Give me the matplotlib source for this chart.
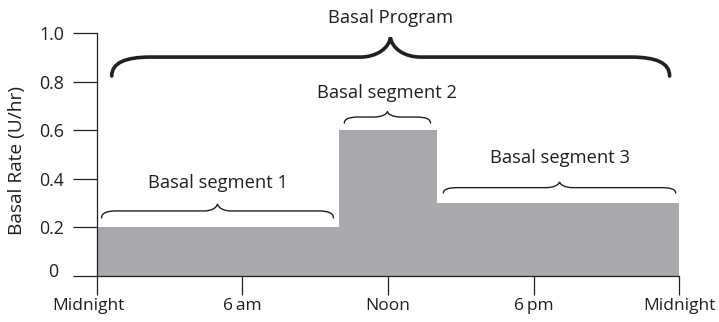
import matplotlib
matplotlib.use("Agg")
import matplotlib.pyplot as plt
import matplotlib.transforms as mtransforms
from matplotlib.path import Path
from matplotlib.patches import PathPatch

plt.rcParams['font.family'] = ['Open Sans', 'DejaVu Sans']

# basal rate program (hours since midnight, U/hr)
seg_edges = [0, 10, 14, 24]
seg_rates = [0.2, 0.6, 0.3]
seg_labels = ["Basal segment 1", "Basal segment 2", "Basal segment 3"]

x_ticks = [0, 6, 12, 18, 24]
x_ticklabels = ["Midnight", "6\u2009am", "Noon", "6\u2009pm", "Midnight"]
y_ticks = [0, 0.2, 0.4, 0.6, 0.8, 1.0]
y_ticklabels = ["0", "0.2", "0.4", "0.6", "0.8", "1.0"]

INK = "#231f20"
FILL = "#a7a9ac"


def brace(ax, x0, x1, xc, y_end, y_mid, y_tip, rx, tw, lw):
    '''
    draws a horizontal curly brace opening downwards
    '''
    dy = y_mid - y_end
    verts = [
        (x0, y_end),
        (x0, y_end + dy * 0.7), (x0 + rx * 0.35, y_mid), (x0 + rx, y_mid),
        (xc - tw, y_mid),
        (xc - tw * 0.45, y_mid), (xc - tw * 0.05, y_mid + (y_tip - y_mid) * 0.45), (xc, y_tip),
        (xc + tw * 0.05, y_mid + (y_tip - y_mid) * 0.45), (xc + tw * 0.45, y_mid), (xc + tw, y_mid),
        (x1 - rx, y_mid),
        (x1 - rx * 0.35, y_mid), (x1, y_end + dy * 0.7), (x1, y_end),
    ]
    codes = [Path.MOVETO,
             Path.CURVE4, Path.CURVE4, Path.CURVE4,
             Path.LINETO,
             Path.CURVE4, Path.CURVE4, Path.CURVE4,
             Path.CURVE4, Path.CURVE4, Path.CURVE4,
             Path.LINETO,
             Path.CURVE4, Path.CURVE4, Path.CURVE4]
    patch = PathPatch(Path(verts, codes), facecolor="none", edgecolor=INK,
                      lw=lw, clip_on=False, capstyle="round")
    ax.add_patch(patch)


fig = plt.figure(figsize=(7.19, 3.22), dpi=100)
ax = fig.add_axes([0.1345, 0.1429, 0.8103, 0.7537])

ax.fill_between(seg_edges, seg_rates + [seg_rates[-1]], step="post",
                color=FILL, lw=0)

ax.set_xlim(0, 24)
ax.set_ylim(0, 1.0)
for s in ["top", "right"]:
    ax.spines[s].set_visible(False)
for s in ["left", "bottom"]:
    ax.spines[s].set_color(INK)
    ax.spines[s].set_linewidth(0.9)

ax.set_xticks(x_ticks)
ax.set_xticklabels(x_ticklabels)
ax.set_yticks(y_ticks)
ax.set_yticklabels(y_ticklabels)
ax.tick_params(axis="x", length=14, width=0.9, color=INK, labelcolor=INK,
               labelsize=12.5, pad=2)
ax.tick_params(axis="y", length=17.5, width=0.9, color=INK, labelcolor=INK,
               labelsize=12.8, pad=6)

# first labels sit a little off their ticks in the original
shift = mtransforms.ScaledTranslation(-8 / 100, 0, fig.dpi_scale_trans)
xl = ax.get_xticklabels()[0]
xl.set_transform(xl.get_transform() + shift)
shift0 = mtransforms.ScaledTranslation(-6 / 100, 6 / 100, fig.dpi_scale_trans)
yl = ax.get_yticklabels()[0]
yl.set_transform(yl.get_transform() + shift0)

ax.set_ylabel("Basal Rate (U/hr)", fontsize=13.8, color=INK, va="center")
ax.yaxis.set_label_coords(-0.137, 0.477)

# segment braces and labels
brace_y = [(0.239, 0.268, 0.297), (0.63, 0.655, 0.678), (0.342, 0.364, 0.388)]
label_y = [0.384, 0.754, 0.486]
for i in range(3):
    a, b = seg_edges[i], seg_edges[i + 1]
    x0 = a + 0.2 if i < 2 else a + 0.28
    x1 = b - 0.25 if i < 2 else b - 0.15
    xc = (x0 + x1) / 2
    ye, ym, yt = brace_y[i]
    brace(ax, x0, x1, xc, ye, ym, yt, rx=0.6, tw=0.55, lw=1.0)
    ax.text(xc, label_y[i], seg_labels[i], ha="center", va="center",
            fontsize=13.2, color=INK)

# whole program brace
brace(ax, 0.62, 23.6, 12.1, 0.824, 0.902, 0.983, rx=1.6, tw=1.25, lw=2.6)
ax.text(12.1, 1.063, "Basal Program", ha="center", va="center",
        fontsize=13.2, color=INK)

fig.savefig("out.png", dpi=100)
